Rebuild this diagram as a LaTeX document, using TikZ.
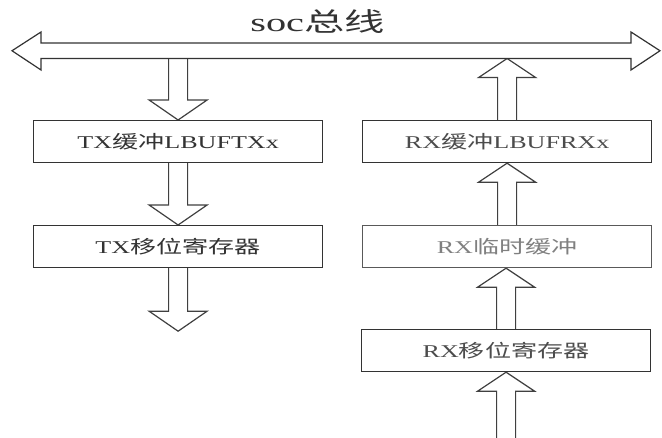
\documentclass[tikz,border=0pt]{standalone}
\usepackage{graphicx}
\usepackage{fontspec}
\setmainfont{Liberation Serif}
\newfontfamily\cjk{Noto Sans CJK SC}
\usetikzlibrary{calc}
\pgfdeclarelayer{arrows}
\pgfsetlayers{arrows,main}

% text is set wide, as in the printed figure
\newcommand\widetext[2][1.45]{\scalebox{#1}[1]{#2}}

% hollow block arrows from a start point to a tip (drawn under the boxes)
\newcommand\arrdown[2]{%
  \begin{pgfonlayer}{arrows}
  \draw[blk] let \p1=(#1), \p2=(#2) in
    (\x1-9.5pt,\y1) -- (\x1-9.5pt,\y2+20pt) -- (\x1-29pt,\y2+20pt) -- (\x1,\y2)
    -- (\x1+29pt,\y2+20pt) -- (\x1+9.5pt,\y2+20pt) -- (\x1+9.5pt,\y1);
  \end{pgfonlayer}}
\newcommand\arrup[2]{%
  \begin{pgfonlayer}{arrows}
  \draw[blk] let \p1=(#1), \p2=(#2) in
    (\x1-9.5pt,\y1) -- (\x1-9.5pt,\y2-19pt) -- (\x1-28.5pt,\y2-19pt) -- (\x1,\y2)
    -- (\x1+28.5pt,\y2-19pt) -- (\x1+9.5pt,\y2-19pt) -- (\x1+9.5pt,\y1);
  \end{pgfonlayer}}

\begin{document}
\begin{tikzpicture}[x=1pt,y=-1pt,
  blk/.style={draw=black!75, line width=1.2pt, fill=white, line join=miter},
  box/.style={draw=black!80, line width=1.2pt, fill=white, anchor=north west,
    minimum width=289pt, minimum height=42pt, inner sep=0pt,
    font=\fontsize{18}{18}\selectfont},
  busline/.style={draw=black!80, line width=1.2pt, fill=white, line join=miter}]
\useasboundingbox (0,0) rectangle (662,438);

% named reference points
\coordinate (busbot) at (0,58.5);
\coordinate (base) at (0,440);

% register and buffer boxes
\node[box, text=black!80] (txbuf) at (33,120)  {\widetext{TX{\cjk 缓冲}LBUFTXx}};
\node[box, text=black!80] (txsr)  at (33,225)  {\widetext{TX{\cjk 移位寄存器}}};
\node[box, text=black!70] (rxbuf) at (362,120) {\widetext{RX{\cjk 缓冲}LBUFRXx}};
\node[box, text=black!50, draw=black!65] (rxtmp) at (362,225) {\widetext{RX{\cjk 临时缓冲}}};
\node[box, text=black!70] (rxsr)  at (361,329) {\widetext{RX{\cjk 移位寄存器}}};
\coordinate (txout) at ($(txsr.south)+(0,63)$);

% transmit path
\arrdown{txbuf.north |- busbot}{txbuf.north}
\arrdown{txbuf.south}{txsr.north}
\arrdown{txsr.south}{txout}

% receive path
\arrup{rxbuf.north}{rxbuf.north |- busbot}
\arrup{rxtmp.north}{rxbuf.south}
\arrup{rxsr.north}{rxtmp.south}
\arrup{rxsr.south |- base}{rxsr.south}

% SoC bus: double-headed block arrow
\draw[busline] (12,50.75) -- (41,32) -- (41,43) -- (631,43) -- (631,32)
  -- (660,50.75) -- (631,70) -- (631,58.5) -- (41,58.5) -- (41,70) -- cycle;
\node[text=black!80, font=\fontsize{26}{26}\selectfont] (title) at (317.5,22)
  {\widetext[1.55]{soc{\cjk 总线}}};
\end{tikzpicture}
\end{document}
